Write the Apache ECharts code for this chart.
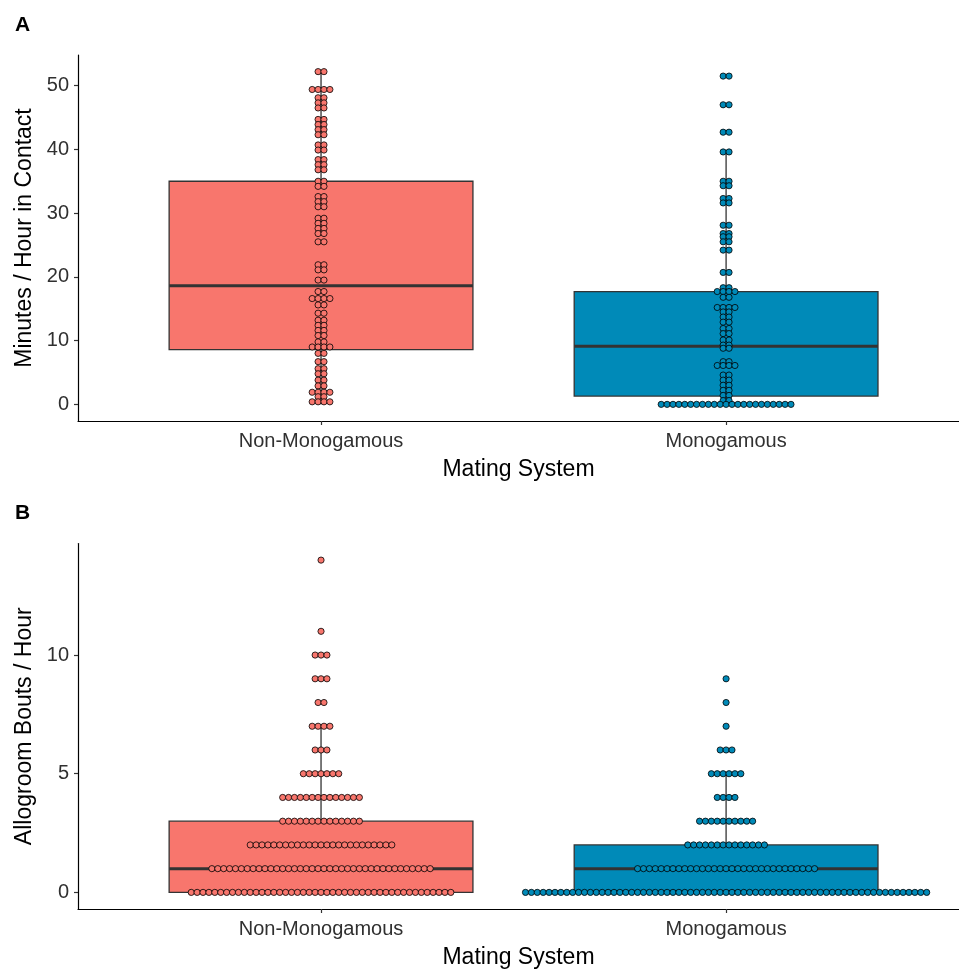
<!DOCTYPE html>
<html>
<head>
    <meta charset="utf-8"/>
    <title>Mating System</title>
    <script src="https://cdn.jsdelivr.net/npm/echarts@6/dist/echarts.min.js"></script>
    <style>
        body { margin: 0; background: #fff; }
    </style>
</head>
<body>
<div id="main" style="width: 959px; height: 971px;"></div>
<script type="text/javascript">
    // categories on the x axis (ggplot-like positions 1 and 2)
    var categories = ['Non-Monogamous', 'Monogamous'];
    var groupColors = ['#F8766D', '#008AB8'];

    // panel A: box stats [min, q1, median, q3, upper whisker]
    var boxNonMonoA = [0, 8.6, 18.6, 35.0, 52.2];
    var boxMonoA = [0, 1.3, 9.1, 17.7, 39.6];
    // panel A: dot stacks (value of the stack, number of dots in it)
    var nonMonoStackValuesA = [52.2, 49.4, 48.1, 47.3, 46.5, 44.7, 43.9, 43.1, 42.3, 40.7, 39.9, 38.4, 37.6, 36.8,
        35.0, 34.2, 32.6, 31.8, 31.0, 29.2, 28.4, 27.6, 26.8, 25.5, 21.9, 21.1, 19.5, 17.7, 16.6, 15.6, 14.3,
        13.2, 12.4, 11.6, 10.8, 9.8, 9.0, 8.0, 6.7, 5.6, 4.8, 3.8, 2.9, 1.9, 1.2, 0.4];
    var nonMonoStackCountsA = [2, 4, 2, 2, 2, 2, 2, 2, 2, 2, 2, 2, 2, 2,
        2, 2, 2, 2, 2, 2, 2, 2, 2, 2, 2, 2, 2, 2, 4, 2, 2,
        2, 2, 2, 2, 2, 4, 2, 2, 2, 2, 2, 2, 4, 2, 4];
    var monoStackValuesA = [51.5, 47.0, 42.7, 39.6, 35.0, 34.3, 32.3, 31.6, 28.1, 26.8, 26.3, 25.5, 24.2, 20.7,
        18.3, 17.7, 16.8, 15.2, 14.5, 13.7, 12.9, 11.9, 11.1, 10.1, 9.3, 8.8, 6.7, 6.1, 4.6, 3.8, 3.0, 2.2,
        1.4, 0.6, 0];
    var monoStackCountsA = [2, 2, 2, 2, 2, 2, 2, 2, 2, 2, 2, 2, 2, 2,
        2, 4, 2, 4, 2, 2, 2, 2, 2, 2, 2, 2, 2, 4, 2, 2, 2, 2,
        2, 2, 23];

    // panel B: box stats [min, q1, median, q3, upper whisker]
    var boxNonMonoB = [0, 0, 1, 3, 7];
    var boxMonoB = [0, 0, 1, 2, 5];
    // panel B: integer bouts per hour and how many animals at each
    var boutValuesB = [0, 1, 2, 3, 4, 5, 6, 7, 8, 9, 10, 11, 12, 13, 14];
    var nonMonoCountsB = [45, 38, 25, 14, 14, 7, 3, 4, 2, 3, 3, 1, 0, 0, 1];
    var monoCountsB = [69, 31, 14, 10, 4, 6, 3, 1, 1, 1, 0, 0, 0, 0, 0];

    // tick labels
    var yTicksA = [0, 10, 20, 30, 40, 50];
    var yTicksB = [0, 5, 10];

    var BOX_WIDTH = 0.75;
    var DOT_STEP = 5.9;
    var DOT_R = 3.1;
    var FONT = 'Liberation Sans, Arial, sans-serif';

    function stacks(group, values, counts) {
        var out = [];
        for (var i = 0; i < values.length; i++) {
            if (counts[i] > 0) out.push([group, values[i], counts[i]]);
        }
        return out;
    }

    function renderBox(params, api) {
        var x = api.value(0);
        var lo = api.coord([x, api.value(1)]);
        var q1 = api.coord([x, api.value(2)]);
        var md = api.coord([x, api.value(3)]);
        var q3 = api.coord([x, api.value(4)]);
        var hi = api.coord([x, api.value(5)]);
        var halfW = api.size([BOX_WIDTH, 0])[0] / 2;
        var fill = groupColors[x - 1];
        var edge = {stroke: '#333', lineWidth: 1.3};
        return {
            type: 'group',
            children: [
                {type: 'line', shape: {x1: q3[0], y1: q3[1], x2: hi[0], y2: hi[1]}, style: edge},
                {type: 'line', shape: {x1: lo[0], y1: lo[1], x2: q1[0], y2: q1[1]}, style: edge},
                {
                    type: 'rect',
                    shape: {x: q3[0] - halfW, y: q3[1], width: halfW * 2, height: q1[1] - q3[1]},
                    style: {fill: fill, stroke: '#333', lineWidth: 1.3}
                },
                {
                    type: 'line',
                    shape: {x1: md[0] - halfW, y1: md[1], x2: md[0] + halfW, y2: md[1]},
                    style: {stroke: '#333', lineWidth: 3}
                }
            ]
        };
    }

    function renderDots(params, api) {
        var g = api.value(0);
        var c = api.coord([g, api.value(1)]);
        var n = api.value(2);
        var kids = [];
        for (var i = 0; i < n; i++) {
            kids.push({
                type: 'circle',
                shape: {cx: c[0] + (i - (n - 1) / 2) * DOT_STEP, cy: c[1], r: DOT_R},
                style: {fill: groupColors[g - 1], stroke: '#000', lineWidth: 0.8}
            });
        }
        return {type: 'group', children: kids};
    }

    // the plot is cut at the right edge, so the axis stops short of 2.6
    function xAxisFor(idx) {
        return {
            type: 'value', gridIndex: idx, min: 0.4, max: 2.575,
            name: 'Mating System', nameLocation: 'middle', nameGap: 37,
            nameTextStyle: {fontFamily: FONT, fontSize: 23, color: '#000'},
            axisLine: {onZero: false, lineStyle: {color: '#000', width: 1.2}},
            axisTick: {customValues: [1, 2], length: 4, lineStyle: {color: '#333', width: 1.2}},
            axisLabel: {
                customValues: [1, 2], margin: 10,
                fontFamily: FONT, fontSize: 20, color: '#303030',
                formatter: function (v) { return categories[Math.round(v) - 1]; }
            },
            splitLine: {show: false}
        };
    }

    function yAxisFor(idx, name, min, max, ticks) {
        return {
            type: 'value', gridIndex: idx, min: min, max: max,
            name: name, nameLocation: 'middle', nameGap: 37,
            nameTextStyle: {fontFamily: FONT, fontSize: 23, color: '#000'},
            axisLine: {show: true, onZero: false, lineStyle: {color: '#000', width: 1.2}},
            axisTick: {show: true, customValues: ticks, length: 4, lineStyle: {color: '#333', width: 1.2}},
            axisLabel: {customValues: ticks, margin: 9, fontFamily: FONT, fontSize: 20, color: '#303030'},
            splitLine: {show: false}
        };
    }

    var chart = echarts.init(document.getElementById('main'));
    var option = {
        backgroundColor: '#fff',
        animation: false,
        title: [
            {text: 'A', left: 10, top: 10, textStyle: {fontFamily: FONT, fontSize: 21, fontWeight: 'bold', color: '#000'}},
            {text: 'B', left: 10, top: 498, textStyle: {fontFamily: FONT, fontSize: 21, fontWeight: 'bold', color: '#000'}}
        ],
        grid: [
            {left: 78, top: 55, right: 0, height: 366},
            {left: 78, top: 543.5, right: 0, height: 365.5}
        ],
        xAxis: [xAxisFor(0), xAxisFor(1)],
        yAxis: [
            yAxisFor(0, 'Minutes / Hour in Contact', -2.61, 54.81, yTicksA),
            yAxisFor(1, 'Allogroom Bouts / Hour', -0.7, 14.7, yTicksB)
        ],
        series: [
            {
                type: 'custom', xAxisIndex: 0, yAxisIndex: 0, renderItem: renderBox,
                data: [[1].concat(boxNonMonoA), [2].concat(boxMonoA)]
            },
            {
                type: 'custom', xAxisIndex: 0, yAxisIndex: 0, renderItem: renderDots,
                data: stacks(1, nonMonoStackValuesA, nonMonoStackCountsA)
                    .concat(stacks(2, monoStackValuesA, monoStackCountsA))
            },
            {
                type: 'custom', xAxisIndex: 1, yAxisIndex: 1, renderItem: renderBox,
                data: [[1].concat(boxNonMonoB), [2].concat(boxMonoB)]
            },
            {
                type: 'custom', xAxisIndex: 1, yAxisIndex: 1, renderItem: renderDots,
                data: stacks(1, boutValuesB, nonMonoCountsB)
                    .concat(stacks(2, boutValuesB, monoCountsB))
            }
        ]
    };
    chart.setOption(option);
</script>
</body>
</html>
